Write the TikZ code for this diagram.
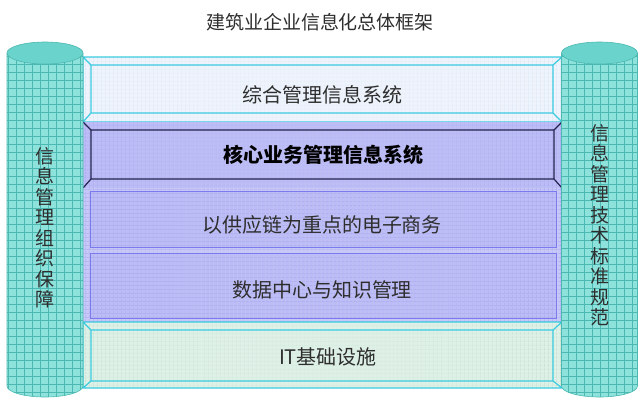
\documentclass[tikz,border=0pt]{standalone}
\usepackage{fontspec}
\newfontfamily\cjk{Noto Sans CJK SC}
\usetikzlibrary{positioning,patterns.meta}
\definecolor{cylcyan}{HTML}{8EE2DC}
\definecolor{cyltop}{HTML}{6AD3CB}
\definecolor{cylline}{HTML}{4CB8B2}
\definecolor{topband}{HTML}{EEF3FC}
\definecolor{topline}{HTML}{C8DCF0}
\definecolor{bandcyan}{HTML}{3CCCE0}
\definecolor{coreband}{HTML}{BCBCF6}
\definecolor{navyline}{HTML}{23234F}
\definecolor{purpleband}{HTML}{C8C8F8}
\definecolor{purpleline}{HTML}{9A9AE8}
\definecolor{itband}{HTML}{DEF1E7}
\definecolor{itline}{HTML}{B4CCBE}
\definecolor{textgray}{HTML}{2E2E2E}

\begin{document}
\begin{tikzpicture}[x=1pt,y=-1pt,
  cyltext/.style={font=\cjk\fontsize{19}{20.5}\selectfont, text=textgray, align=center, inner sep=0pt},
  bandtext/.style={font=\cjk\fontsize{20}{21}\selectfont, text=textgray, inner sep=0pt},
  hlines/.style={pattern={Lines[distance=#1, angle=0, line width=0.3pt]}},
  vlines/.style={pattern={Lines[distance=#1, angle=90, line width=0.3pt]}},
  bevel/.style={line width=1.2pt}]

\useasboundingbox (0,0) rectangle (641,400);

% title
\node[bandtext, font=\cjk\fontsize{19}{20}\selectfont] (title) at (320,22) {建筑业企业信息化总体框架};

% top band
\fill[topband] (83,57) rectangle (562,122);
\fill[hlines=4pt, pattern color=topline] (83,57) rectangle (562,122);
\fill[vlines=4pt, pattern color=topline] (83,57) rectangle (562,122);
\draw[bandcyan, bevel] (83,57) rectangle (562,122) (91,65) rectangle (553,113)
  (83,57)--(91,65) (562,57)--(553,65) (83,122)--(91,113) (562,122)--(553,113);

% core band
\fill[coreband] (83,122) rectangle (562,188);
\fill[hlines=4pt, pattern color=purpleline] (83,122) rectangle (562,188);
\fill[vlines=4pt, pattern color=purpleline] (83,122) rectangle (562,188);
\draw[navyline, bevel] (91,130) rectangle (554,179)
  (83,122)--(91,130) (562,122)--(554,130) (83,188)--(91,179) (562,188)--(554,179);

% middle bands
\fill[purpleband] (83,188) rectangle (562,322);
\fill[coreband] (90,191) rectangle (556,247) (90,253) rectangle (556,318);
\fill[hlines=4pt, pattern color=purpleline] (83,188) rectangle (562,322);
\fill[vlines=4pt, pattern color=purpleline] (83,188) rectangle (562,322);
\draw[purpleline!80!blue, line width=0.6pt] (90,191) rectangle (556,247) (90,253) rectangle (556,318);

% infrastructure band
\fill[itband] (83,322) rectangle (562,388);
\fill[hlines=4pt, pattern color=itline] (83,322) rectangle (562,388);
\fill[vlines=4pt, pattern color=itline] (83,322) rectangle (562,388);
\draw[bandcyan, bevel] (83,322) rectangle (562,388) (91,330) rectangle (553,381)
  (83,322)--(91,330) (562,322)--(553,330) (83,388)--(91,381) (562,388)--(553,381);

% pillars
\foreach \cx in {45,599.5}{
  \fill[cylcyan] (\cx-38,53) -- (\cx-38,386) arc[start angle=180, end angle=0, x radius=38, y radius=11] -- (\cx+38,53) -- cycle;
  \fill[hlines=8pt, pattern color=cylline] (\cx-38,53) -- (\cx-38,386) arc[start angle=180, end angle=0, x radius=38, y radius=11] -- (\cx+38,53) -- cycle;
  \fill[vlines=8pt, pattern color=cylline] (\cx-38,53) -- (\cx-38,386) arc[start angle=180, end angle=0, x radius=38, y radius=11] -- (\cx+38,53) -- cycle;
  \draw[cylline, line width=0.6pt] (\cx-38,53) -- (\cx-38,386) arc[start angle=180, end angle=0, x radius=38, y radius=11] -- (\cx+38,53);
  \filldraw[fill=cyltop, draw=cylline, line width=0.6pt] (\cx,53) ellipse [x radius=38, y radius=11];
}

% texts
\node[bandtext] (mis) at (322,95) {综合管理信息系统};
\node[bandtext, text=black, font=\cjk\bfseries\fontsize{20}{21}\selectfont] (core) at (323,155) {核心业务管理信息系统};
\node[bandtext] (ecom) at (322,225) {以供应链为重点的电子商务};
\node[bandtext] (datactr) at (322,290) {数据中心与知识管理};
\node[bandtext] (infra) at (328,357) {IT基础设施};
\node[cyltext] (leftpillar) at (45,228) {信\\息\\管\\理\\组\\织\\保\\障};
\node[cyltext] (rightpillar) at (599.5,225) {信\\息\\管\\理\\技\\术\\标\\准\\规\\范};

\end{tikzpicture}
\end{document}
